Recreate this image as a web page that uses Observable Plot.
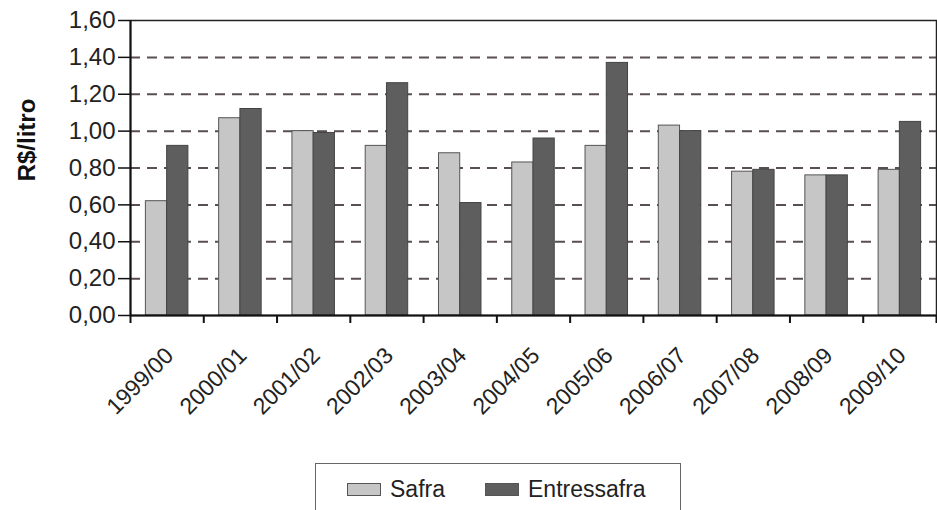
<!DOCTYPE html>
<html>
<head>
<meta charset="utf-8">
<script src="https://cdn.jsdelivr.net/npm/d3@7"></script>
<script src="https://cdn.jsdelivr.net/npm/@observablehq/plot@0.6"></script>
<style>
  html, body { margin: 0; padding: 0; background: #fff; }
  body { width: 937px; height: 510px; overflow: hidden; font-family: "Liberation Sans", Arial, sans-serif; }
  #chart svg { display: block; }
  .legend {
    position: relative;
    margin-left: 315px;
    width: 366px;
    height: 60px;
    border: 1.5px solid #666;
    box-sizing: border-box;
    font-size: 23px;
    color: #222;
  }
  .legend .item { position: absolute; top: 12px; display: flex; align-items: center; }
  .legend .sw { width: 32px; height: 11px; border: 1px solid #555; margin-right: 9px; }
</style>
</head>
<body>
<div id="chart"></div>
<div class="legend" id="legend"></div>
<script>
// Safras (crop years)
const safras = ["1999/00", "2000/01", "2001/02", "2002/03", "2003/04", "2004/05",
                "2005/06", "2006/07", "2007/08", "2008/09", "2009/10"];
// Preço do leite, R$/litro
const safra       = [0.62, 1.07, 1.00, 0.92, 0.88, 0.83, 0.92, 1.03, 0.78, 0.76, 0.79];
const entressafra = [0.92, 1.12, 0.99, 1.26, 0.61, 0.96, 1.37, 1.00, 0.79, 0.76, 1.05];
const yTicks = [0, 0.2, 0.4, 0.6, 0.8, 1.0, 1.2, 1.4, 1.6];
const seriesNames = ["Safra", "Entressafra"];
const seriesColors = ["#c6c6c6", "#5e5e5e"];

const rows = safras.map((s, i) => ({i, safra: s, Safra: safra[i], Entressafra: entressafra[i]}));
const fmt = d3.format(".2f");
const comma = v => fmt(v).replace(".", ",");

const font = "Liberation Sans, Arial, sans-serif";

const chart = Plot.plot({
  width: 937,
  height: 463,
  marginLeft: 130,
  marginRight: 1,
  marginTop: 20,
  marginBottom: 148,
  style: {fontFamily: font, color: "#222", background: "#fff"},
  x: {type: "linear", domain: [0, safras.length]},
  y: {domain: [0, 1.6]},
  marks: [
    // dashed horizontal gridlines
    Plot.ruleY(yTicks.filter(v => v > 0 && v < 1.6), {
      stroke: "#5a4f4f", strokeWidth: 2, strokeDasharray: "10,7"
    }),
    // Safra bars (left of each pair)
    Plot.rectY(rows, {
      x1: d => d.i + 0.21, x2: d => d.i + 0.50, y: "Safra",
      fill: seriesColors[0], stroke: "#555", strokeWidth: 1
    }),
    // Entressafra bars (right of each pair)
    Plot.rectY(rows, {
      x1: d => d.i + 0.50, x2: d => d.i + 0.79, y: "Entressafra",
      fill: seriesColors[1], stroke: "#444", strokeWidth: 1
    }),
    Plot.frame({stroke: "#222", strokeWidth: 1.5}),
    Plot.ruleY([0], {stroke: "#111", strokeWidth: 2}),
    Plot.ruleX([0], {stroke: "#111", strokeWidth: 2}),
    Plot.axisY({
      ticks: yTicks, tickFormat: comma, tickSize: 12, tickPadding: 3,
      fontSize: 24, label: null, stroke: "#111", strokeWidth: 1.5
    }),
    // tick marks between the crop years
    Plot.axisX({
      ticks: d3.range(safras.length + 1), tickFormat: () => "", tickSize: 8,
      label: null, stroke: "#111", strokeWidth: 2
    }),
    // crop-year labels, centred under each pair
    Plot.axisX({
      ticks: safras.map((s, i) => i + 0.5), tickFormat: v => safras[Math.floor(v)],
      tickSize: 0, tickPadding: 30, rotate: -45, textAnchor: "end",
      fontSize: 23, label: null, dx: -4
    }),
    Plot.text(["R$/litro"], {
      frameAnchor: "left", textAnchor: "middle", rotate: -90, dx: -103, dy: -28,
      fontSize: 24, fontWeight: "bold", fill: "#111"
    })
  ]
});
document.getElementById("chart").append(chart);

// legend box
const legend = document.getElementById("legend");
const lefts = [31, 169];
seriesNames.forEach((name, k) => {
  const item = document.createElement("div");
  item.className = "item";
  item.style.left = lefts[k] + "px";
  const sw = document.createElement("span");
  sw.className = "sw";
  sw.style.background = seriesColors[k];
  const label = document.createElement("span");
  label.textContent = name;
  item.append(sw, label);
  legend.append(item);
});
</script>
</body>
</html>
